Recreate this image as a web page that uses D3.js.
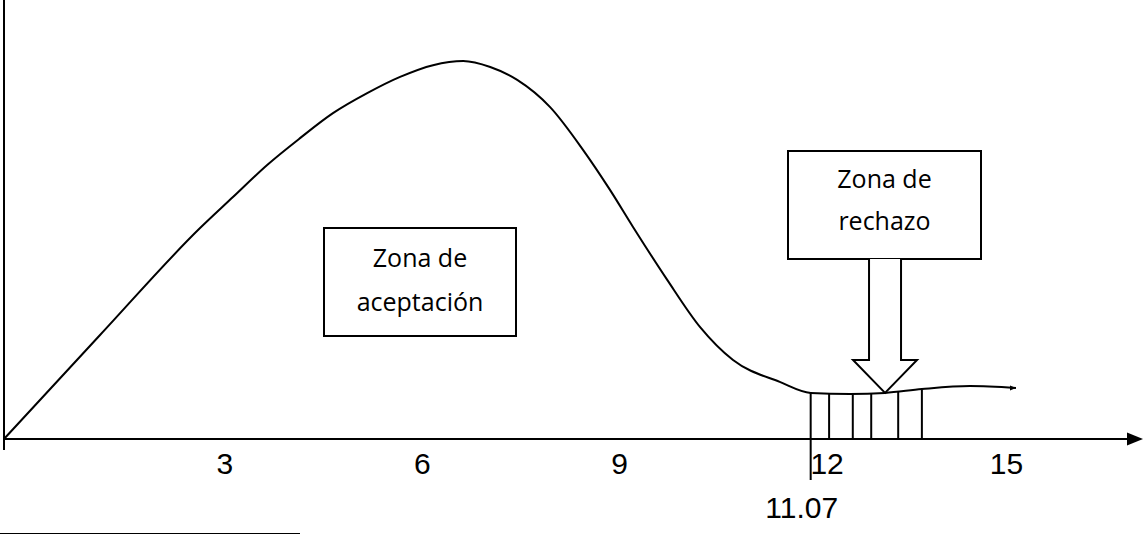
<!DOCTYPE html>
<html>
<head>
<meta charset="utf-8">
<script src="https://cdn.jsdelivr.net/npm/d3@7"></script>
<style>
  body { margin: 0; background: #fff; }
  svg { display: block; }
</style>
</head>
<body>
<svg id="chart"></svg>
<script>
// curve (x in axis units, y as share of the peak height)
const curveX = [-0.35, 1.11, 2.63, 3.13, 3.65, 4.15, 4.65, 5.17, 5.67, 6.17, 6.63, 7.04,
  7.45, 7.95, 8.45, 8.86, 9.21, 9.73, 10.23, 10.73, 11.44, 11.91, 12.51, 13.04, 13.60, 14.33, 15.03];
const curveY = [0, 0.275, 0.558, 0.640, 0.725, 0.796, 0.862, 0.915, 0.958, 0.989, 1.0, 0.984,
  0.950, 0.878, 0.765, 0.659, 0.561, 0.421, 0.296, 0.209, 0.151, 0.122, 0.119, 0.122, 0.132, 0.140, 0.135];

const tickValues = [3, 6, 9, 12, 15];
const criticalValue = 11.91;      // where the critical line is drawn
const criticalLabel = '11.07';
const hatchValues = [12.19, 12.55, 12.83, 13.24, 13.60];
const acceptLines = ['Zona de', 'aceptación'];
const rejectLines = ['Zona de', 'rechazo'];

const width = 1143, height = 535;

const svg = d3.select('#chart')
  .attr('width', width)
  .attr('height', height)
  .attr('viewBox', [0, 0, width, height]);

const x = d3.scaleLinear().domain([0, 15]).range([27, 1014]);
const y = d3.scaleLinear().domain([0, 1]).range([439, 61]);

/** value of the curve at some x (straight between the read points) */
function curveAt(v) {
  const i = Math.max(1, d3.bisectLeft(curveX, v));
  const t = (v - curveX[i - 1]) / (curveX[i] - curveX[i - 1]);
  return curveY[i - 1] + t * (curveY[i] - curveY[i - 1]);
}

/** Axes */
svg.append('line')
  .attr('x1', 4).attr('x2', 4)
  .attr('y1', 0).attr('y2', 450)
  .attr('stroke', '#000').attr('stroke-width', 2);

svg.append('line')
  .attr('x1', x(curveX[0])).attr('x2', 1130)
  .attr('y1', y(0)).attr('y2', y(0))
  .attr('stroke', '#000').attr('stroke-width', 2);

svg.append('path')
  .attr('d', `M1127,${y(0) - 6.5}L1143,${y(0)}L1127,${y(0) + 6.5}Z`)
  .attr('fill', '#000');

const axis = svg.append('g')
  .attr('transform', `translate(0,${y(0)})`)
  .call(d3.axisBottom(x).tickValues(tickValues).tickSize(0).tickFormat(d3.format('d')));
axis.select('.domain').remove();
axis.selectAll('text')
  .attr('y', 35).attr('dy', null)
  .attr('dx', d => d === 12 ? 10 : (d === 15 ? -8 : 0))
  .attr('font-family', '"Liberation Sans", Arial, sans-serif')
  .attr('font-size', 30)
  .attr('fill', '#000');

/** Rejection zone hatching */
svg.append('g')
  .selectAll('line')
  .data(hatchValues)
  .join('line')
  .attr('x1', d => x(d)).attr('x2', d => x(d))
  .attr('y1', y(0)).attr('y2', d => y(curveAt(d)))
  .attr('stroke', '#000').attr('stroke-width', 2);

svg.append('line')
  .attr('x1', x(criticalValue)).attr('x2', x(criticalValue))
  .attr('y1', y(curveAt(criticalValue))).attr('y2', 480)
  .attr('stroke', '#000').attr('stroke-width', 2);

svg.append('text')
  .attr('x', x(criticalValue) - 9)
  .attr('y', 518)
  .attr('text-anchor', 'middle')
  .attr('font-family', '"Liberation Sans", Arial, sans-serif')
  .attr('font-size', 30)
  .text(criticalLabel);

/** Curve */
const pts = curveX.map((v, i) => [v, curveY[i]]);
svg.append('path')
  .datum(pts)
  .attr('fill', 'none')
  .attr('stroke', '#000')
  .attr('stroke-width', 2)
  .attr('d', d3.line().x(d => x(d[0])).y(d => y(d[1])).curve(d3.curveMonotoneX));

// small tip at the end of the curve
const endX = x(curveX[curveX.length - 1]), endY = y(curveY[curveY.length - 1]);
svg.append('path')
  .attr('d', `M${endX - 6},${endY - 2.5}L${endX},${endY}L${endX - 6},${endY + 2.5}Z`)
  .attr('fill', '#000');

/** Text boxes */
function textBox(x0, y0, w, h, lines, baselines) {
  const g = svg.append('g');
  g.append('rect')
    .attr('x', x0).attr('y', y0)
    .attr('width', w).attr('height', h)
    .attr('fill', '#fff').attr('stroke', '#000').attr('stroke-width', 2);
  g.selectAll('text')
    .data(lines)
    .join('text')
    .attr('x', x0 + w / 2)
    .attr('y', (d, i) => baselines[i])
    .attr('text-anchor', 'middle')
    .attr('font-family', '"Open Sans", sans-serif')
    .attr('font-size', 25)
    .text(d => d);
}

textBox(324, 228, 192, 108, acceptLines, [267, 311]);
textBox(788, 151, 193, 108, rejectLines, [188, 230]);

/** Arrow from the rejection box down to the curve */
const tipX = x(13.04), tipY = y(curveAt(13.04));
svg.append('path')
  .attr('d', `M${tipX - 16},259V360H${tipX - 32}L${tipX},${tipY}L${tipX + 32},360H${tipX + 16}V259`)
  .attr('fill', '#fff')
  .attr('stroke', '#000')
  .attr('stroke-width', 2)
  .attr('stroke-linejoin', 'miter');

/** footnote separator */
svg.append('line')
  .attr('x1', 0).attr('x2', 300)
  .attr('y1', 533.5).attr('y2', 533.5)
  .attr('stroke', '#000').attr('stroke-width', 1);
</script>
</body>
</html>
